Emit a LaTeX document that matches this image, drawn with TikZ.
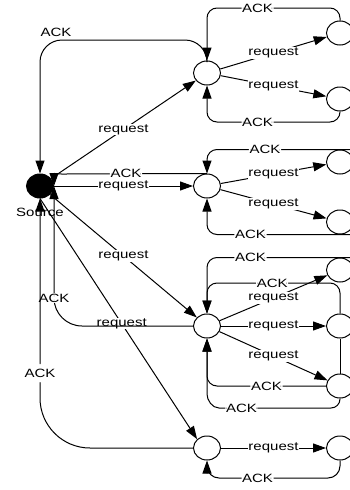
\documentclass[tikz,border=0pt]{standalone}
\usepackage{fontspec}
\setmainfont[FakeStretch=1.25]{Liberation Sans}
\usetikzlibrary{arrows.meta,shapes.geometric}

\tikzset{
  proc/.style={draw,ellipse,line width=1pt,minimum width=27pt,minimum height=24pt,inner sep=0pt},
  source/.style={proc,fill=black},
  req/.style={line width=1pt,-{Triangle[length=13pt,width=9pt]}},
  ack/.style={req,rounded corners=10pt},
  lbl/.style={fill=white,inner sep=0.6pt,font=\fontsize{12}{13}\selectfont},
}

\begin{document}
\begin{tikzpicture}[x=1pt,y=-1pt]
	\useasboundingbox (0,0) rectangle (349,490);

	% source
	\node[font=\fontsize{12}{13}\selectfont] (srclbl) at (40,212) {Source};
	\node[source] (src) at (40,186) {};

	% middle layer
	\node[proc] (m1) at (207,73) {};
	\node[proc] (m2) at (207,186) {};
	\node[proc] (m3) at (207,326) {};
	\node[proc] (m4) at (207,448) {};

	% leaves
	\node[proc] (c11) at (340,33) {};
	\node[proc] (c12) at (340,99) {};
	\node[proc] (c21) at (340,162) {};
	\node[proc] (c22) at (340,222) {};
	\node[proc] (c31) at (340,270) {};
	\node[proc] (c32) at (340,326) {};
	\node[proc] (c33) at (340,386) {};
	\node[proc] (c41) at (340,448) {};

	% requests from the source
	\draw[req] (src) -- node[lbl]{request} (m1);
	\draw[req] (src) -- node[lbl]{request} (m2);
	\draw[req] (src) -- node[lbl]{request} (m3);
	\draw[req] (src.south) -- node[lbl,pos=.52]{request} (m4.north west);

	% ACK back to the source
	\node[font=\fontsize{12}{13}\selectfont] (ack0) at (56,32) {ACK};
	\draw[ack,rounded corners=22pt] (m1.north) -- (207,40) -- (40,40) -- (src.north);
	\draw[ack] (m2.north) -- node[lbl,pos=.6]{ACK} (72,174) .. controls (60,174) and (54,174) .. (src.east);
	\draw[ack,rounded corners=28pt] (m3.west) -- (54,326) -- node[lbl,pos=.2]{ACK} (src.east);
	\draw[ack,rounded corners=50pt] (m4.west) -- (40,448) -- node[lbl,pos=.3]{ACK} (src.south);

	% first group
	\draw[req] (m1) -- node[lbl]{request} (c11);
	\draw[req] (m1) -- node[lbl]{request} (c12);
	\draw[ack] (c11.north) -- (340,8) -- node[lbl,pos=.62]{ACK} (207,8) -- (m1.north);
	\draw[ack] (c12.south) -- (340,122) -- node[lbl,pos=.62]{ACK} (207,122) -- (m1.south);

	% second group
	\draw[req] (m2) -- node[lbl]{request} (c21);
	\draw[req] (m2) -- node[lbl]{request} (c22);
	\draw[ack] (c21.north) ++(12,0) -- node[lbl,pos=.6]{ACK} (m2.north |- c21.north) -- (m2.north);
	\draw[ack] (c22.south) ++(12,0) -- node[lbl,pos=.7]{ACK} (m2.south |- c22.south) -- (m2.south);

	% third group
	\draw[req] (m3) -- node[lbl]{request} (c31);
	\draw[req] (m3) -- node[lbl]{request} (c32);
	\draw[req] (m3) -- node[lbl]{request} (c33);
	\draw[ack] (c31.north) ++(12,0) -- node[lbl,pos=.7]{ACK} (m3.north |- c31.north) -- (m3.north);
	\draw[ack] (c32.north) -- (340,283) -- node[lbl,pos=.51]{ACK} (207,283) -- (m3.north);
	\draw[line width=1pt] (c32) -- (c33);
	\draw[ack] (c33.west) -- node[lbl,pos=.5]{ACK} (m3.south |- c33.west) -- (m3.south);
	\draw[ack,rounded corners=9pt] (c33.south) -- (340,408) -- node[lbl,pos=.88]{ACK} (228,408) .. controls (212,408) and (207,400) .. (207,385) -- (m3.south);

	% fourth group
	\draw[req] (m4) -- node[lbl]{request} (c41);
	\draw[ack,rounded corners=12pt] (c41.south) -- (340,478) -- node[lbl,pos=.62]{ACK} (207,478) -- (m4.south);

\end{tikzpicture}
\end{document}
